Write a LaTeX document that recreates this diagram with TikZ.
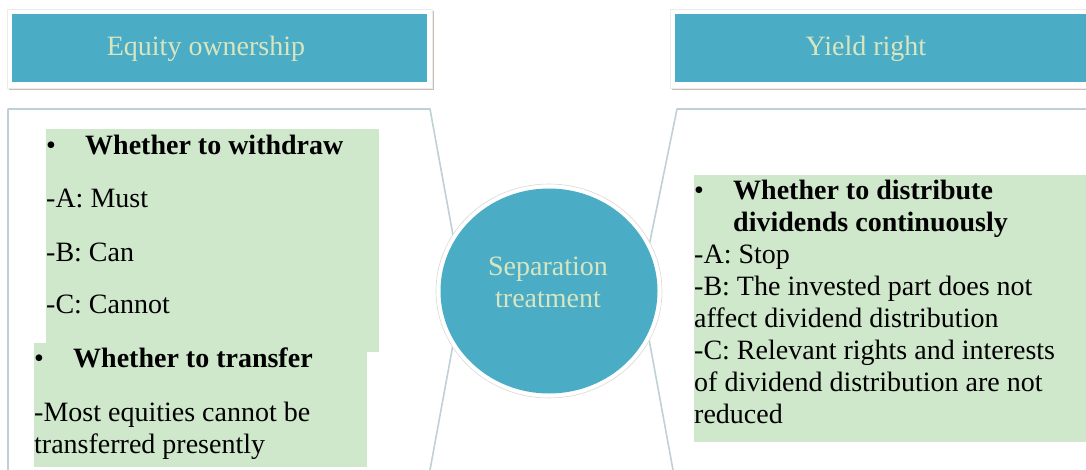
\documentclass[tikz,border=0pt]{standalone}
\usepackage{fontspec}
\usetikzlibrary{shapes.geometric}
\setmainfont{Liberation Serif}
\definecolor{tealfill}{HTML}{4BACC6}
\definecolor{headtext}{HTML}{D8E6C0}
\definecolor{notegreen}{HTML}{CFE8CB}
\definecolor{panelline}{HTML}{BFD1D6}
\definecolor{shadowc}{HTML}{C9BDB8}
\begin{document}
\begin{tikzpicture}[x=1pt,y=-1pt,
  panel/.style={draw=panelline, line width=1.6pt, line join=round},
  headframe/.style={fill=white, draw=gray!15, line width=0.6pt, inner sep=0pt, anchor=north west},
  headfill/.style={fill=tealfill, inner sep=0pt, anchor=north west},
  headlabel/.style={text=headtext, font=\fontsize{28}{32}\selectfont, inner sep=0pt, anchor=base},
  notebox/.style={fill=notegreen, inner sep=0pt, anchor=north west},
  % multi-line text is placed by the baseline of its last line
  notetext/.style={font=\fontsize{28}{32}\selectfont, inner sep=0pt, align=left, anchor=base west}]
\useasboundingbox (0,0) rectangle (1086,470);
\fill[white] (0,0) rectangle (1086,470);

% panel outlines behind the central circle
\draw[panel] (8,470) -- (8,109) -- (430,109) -- (463,290) -- (430,470);
\draw[panel] (1086,109) -- (677,109) -- (640,290) -- (673,470);

% header bars
\fill[shadowc] (9,11) rectangle (434,90);
\node[headframe, minimum width=425pt, minimum height=79pt] (eqframe) at (7,9) {};
\node[headfill, minimum width=415pt, minimum height=68pt] (eqbar) at (12,14) {};
\node[headlabel] (eqlabel) at (206,56) {Equity ownership};

\fill[shadowc] (672,11) rectangle (1090,90);
\node[headframe, minimum width=420pt, minimum height=79pt] (yrframe) at (670,9) {};
\node[headfill, minimum width=415pt, minimum height=68pt] (yrbar) at (675,14) {};
\node[headlabel] (yrlabel) at (866,56) {Yield right};

% central circle
\node[ellipse, draw=gray!30, line width=0.6pt, fill=white, minimum width=226pt, minimum height=214pt, inner sep=0pt] (ring) at (549,291) {};
\node[ellipse, fill=tealfill, minimum width=217pt, minimum height=205pt, inner sep=0pt] (core) at (549,291) {};
\node[headlabel, align=center] (sep) at (548,307) {Separation\\treatment};

% note boxes
\node[notebox, minimum width=333pt, minimum height=223pt] (wbox) at (46,129) {};
\node[notebox, minimum width=333pt, minimum height=124pt] (tbox) at (34,343) {};
\node[notebox, minimum width=392pt, minimum height=267pt] (dbox) at (694,175) {};

\node[notetext] (wtext) at (46,313) {%
  \makebox[39pt][l]{\textbullet}\textbf{Whether to withdraw}\\[21pt]
  -A: Must\\[22pt]
  -B: Can\\[20pt]
  -C: Cannot};

\node[notetext] (ttext) at (34,453) {%
  \makebox[39pt][l]{\textbullet}\textbf{Whether to transfer}\\[22pt]
  -Most equities cannot be\\
  transferred presently};

\node[notetext] (dtext) at (694,423) {%
  \makebox[39pt][l]{\textbullet}\textbf{Whether to distribute}\\
  \hspace*{39pt}\textbf{dividends continuously}\\
  -A: Stop\\
  -B: The invested part does not\\
  affect dividend distribution\\
  -C: Relevant rights and interests\\
  of dividend distribution are not\\
  reduced};
\end{tikzpicture}
\end{document}
